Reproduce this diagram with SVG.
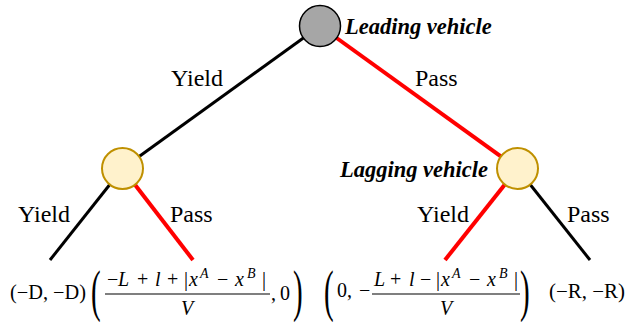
<svg xmlns="http://www.w3.org/2000/svg" width="637" height="322" viewBox="0 0 637 322">
<defs>
<style>
.eb{stroke:#000;stroke-width:3;fill:none}
.er{stroke:#ff0000;stroke-width:4;fill:none}
.top{fill:#a6a6a6;stroke:#000;stroke-width:1.5}
.mid{fill:#fff2cc;stroke:#bf9000;stroke-width:2}
.bar{stroke:#000;stroke-width:1.2}
</style>
</defs>
<g id="connectors">
<line class="eb" x1="320" y1="26" x2="122.5" y2="168.5"/>
<line class="er" x1="320" y1="26" x2="517.5" y2="168.5"/>
<line class="eb" x1="122.5" y1="168.5" x2="50" y2="260"/>
<line class="er" x1="122.5" y1="168.5" x2="193" y2="260"/>
<line class="er" x1="517.5" y1="168.5" x2="445" y2="260"/>
<line class="eb" x1="517.5" y1="168.5" x2="590" y2="260"/>
<text x="171" y="86" font-family="Liberation Serif" font-size="24">Yield</text>
<text x="415" y="86" font-family="Liberation Serif" font-size="24">Pass</text>
<text x="18" y="222" font-family="Liberation Serif" font-size="24">Yield</text>
<text x="170" y="222" font-family="Liberation Serif" font-size="24">Pass</text>
<text x="417" y="222" font-family="Liberation Serif" font-size="24">Yield</text>
<text x="567" y="222" font-family="Liberation Serif" font-size="24">Pass</text>
</g>
<g id="leading">
<circle class="top" cx="320" cy="26" r="20.5"/>
<text x="345" y="34" font-family="Liberation Serif" font-size="22.5" font-weight="bold" font-style="italic">Leading vehicle</text>
</g>
<g id="left-node">
<circle class="mid" cx="122.5" cy="168.5" r="20.5"/>
</g>
<g id="lagging">
<circle class="mid" cx="517.5" cy="168.5" r="20.5"/>
<text x="488" y="177" text-anchor="end" font-family="Liberation Serif" font-size="22.5" font-weight="bold" font-style="italic">Lagging vehicle</text>
</g>
<g id="payoff-yy">
<text x="10" y="299" textLength="76" lengthAdjust="spacingAndGlyphs" font-family="Liberation Serif" font-size="20">(−D, −D)</text>
</g>
<g id="payoff-yp">
<text transform="translate(91,309.5) scale(0.5,1)" font-family="Liberation Serif" font-size="58">(</text>
<text font-family="Liberation Serif" font-size="20"><tspan x="107" y="286">−</tspan><tspan font-style="italic" x="118">L</tspan><tspan x="137">+</tspan><tspan font-style="italic" x="155">l</tspan><tspan x="167">+</tspan><tspan x="184">|</tspan><tspan font-style="italic" x="189">x</tspan><tspan font-style="italic" font-size="14" x="200" y="278">A</tspan><tspan x="217" y="286">−</tspan><tspan font-style="italic" x="235">x</tspan><tspan font-style="italic" font-size="14" x="247" y="278">B</tspan><tspan x="262" y="286">|</tspan></text>
<line class="bar" x1="105" y1="294" x2="270" y2="294"/>
<text x="181" y="315" font-family="Liberation Serif" font-size="20" font-style="italic">V</text>
<text x="271" y="300" font-family="Liberation Serif" font-size="20">,</text>
<text x="280" y="300" font-family="Liberation Serif" font-size="20">0</text>
<text transform="translate(293,309.5) scale(0.5,1)" font-family="Liberation Serif" font-size="58">)</text>
</g>
<g id="payoff-py">
<text transform="translate(324,309.5) scale(0.5,1)" font-family="Liberation Serif" font-size="58">(</text>
<text x="337" y="297" font-family="Liberation Serif" font-size="20">0,</text>
<text x="359" y="297" font-family="Liberation Serif" font-size="20">−</text>
<text font-family="Liberation Serif" font-size="20"><tspan font-style="italic" x="374" y="286">L</tspan><tspan x="390">+</tspan><tspan font-style="italic" x="409">l</tspan><tspan x="420">−</tspan><tspan x="436">|</tspan><tspan font-style="italic" x="441">x</tspan><tspan font-style="italic" font-size="14" x="452" y="278">A</tspan><tspan x="469" y="286">−</tspan><tspan font-style="italic" x="487">x</tspan><tspan font-style="italic" font-size="14" x="499" y="278">B</tspan><tspan x="514" y="286">|</tspan></text>
<line class="bar" x1="372" y1="294" x2="520" y2="294"/>
<text x="440" y="315" font-family="Liberation Serif" font-size="20" font-style="italic">V</text>
<text transform="translate(520,309.5) scale(0.5,1)" font-family="Liberation Serif" font-size="58">)</text>
</g>
<g id="payoff-pp">
<text x="549" y="298" textLength="76" lengthAdjust="spacingAndGlyphs" font-family="Liberation Serif" font-size="20">(−R, −R)</text>
</g>
</svg>
